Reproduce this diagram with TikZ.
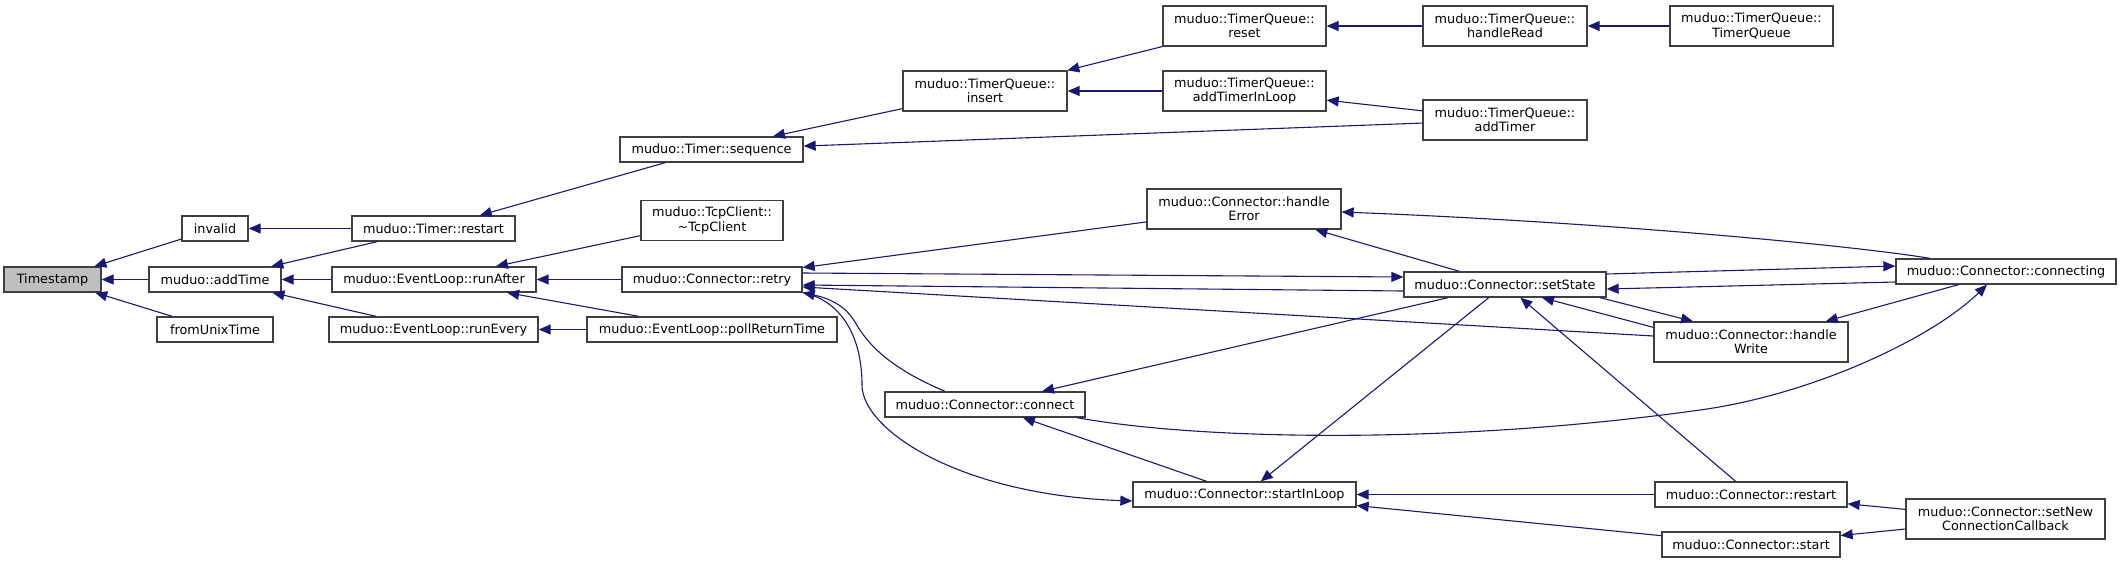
\documentclass[tikz,border=0pt]{standalone}
\usepackage{fontspec}
\setmainfont{DejaVu Sans}
\usetikzlibrary{arrows.meta}
\definecolor{edgeblue}{HTML}{191970}
\definecolor{rootgray}{HTML}{BFBFBF}
\begin{document}
\begin{tikzpicture}[x=1pt,y=-1pt,
  fn/.style={draw=black!75,line width=1.3pt,fill=white,inner sep=0pt,align=center,minimum height=25pt,font=\fontsize{12.8}{14.3}\selectfont},
  fn2/.style={fn,minimum height=40pt},
  callby/.style={{Triangle[length=12pt,width=10pt]}-,draw=edgeblue,line width=1.1pt}]
\useasboundingbox (0,0) rectangle (2121,563);
\node[fn,fill=rootgray,minimum width=97pt] (Timestamp) at (52.5,279.5) {Timestamp};
\node[fn,minimum width=66pt] (invalid) at (215,228.5) {invalid};
\node[fn,minimum width=132pt] (addTime) at (215,279.5) {muduo::addTime};
\node[fn,minimum width=116pt] (fromUnixTime) at (215,329.5) {fromUnixTime};
\node[fn,minimum width=163pt] (timerRestart) at (433.5,228.5) {muduo::Timer::restart};
\node[fn,minimum width=204pt] (runAfter) at (434,279.5) {muduo::EventLoop::runAfter};
\node[fn,minimum width=209pt] (runEvery) at (433.5,329.5) {muduo::EventLoop::runEvery};
\node[fn,minimum width=183pt] (sequence) at (711.5,149.5) {muduo::Timer::sequence};
\node[fn2,minimum width=142pt] (tcpClient) at (712,220.5) {muduo::TcpClient::\\\textasciitilde TcpClient};
\node[fn,minimum width=180pt] (retry) at (712,279.5) {muduo::Connector::retry};
\node[fn,minimum width=250pt] (pollReturnTime) at (712,329.5) {muduo::EventLoop::pollReturnTime};
\node[fn2,minimum width=164pt] (insert) at (985,91) {muduo::TimerQueue::\\insert};
\node[fn2,minimum width=163pt] (reset) at (1244.5,26) {muduo::TimerQueue::\\reset};
\node[fn2,minimum width=163pt] (addTimerInLoop) at (1244.5,91) {muduo::TimerQueue::\\addTimerInLoop};
\node[fn2,minimum width=164pt] (handleRead) at (1505,26) {muduo::TimerQueue::\\handleRead};
\node[fn2,minimum width=164pt] (addTimer) at (1505,120) {muduo::TimerQueue::\\addTimer};
\node[fn2,minimum width=163pt] (timerQueue) at (1751.5,26) {muduo::TimerQueue::\\TimerQueue};
\node[fn2,minimum width=194pt] (handleError) at (1244,209) {muduo::Connector::handle\\Error};
\node[fn,minimum width=202pt] (setState) at (1505,284.5) {muduo::Connector::setState};
\node[fn,minimum width=200pt] (connect) at (985,404.5) {muduo::Connector::connect};
\node[fn,minimum width=223pt] (startInLoop) at (1244.5,494.5) {muduo::Connector::startInLoop};
\node[fn2,minimum width=194pt] (handleWrite) at (1751,342) {muduo::Connector::handle\\Write};
\node[fn,minimum width=192pt] (connRestart) at (1751,494.5) {muduo::Connector::restart};
\node[fn,minimum width=178pt] (start) at (1751,544.5) {muduo::Connector::start};
\node[fn,minimum width=220pt] (connecting) at (2006,271.5) {muduo::Connector::connecting};
\node[fn2,minimum width=199pt] (setNewCb) at (2005.5,519) {muduo::Connector::setNew\\ConnectionCallback};
\draw[callby] (Timestamp) -- (invalid);
\draw[callby] (Timestamp) -- (addTime);
\draw[callby] (Timestamp) -- (fromUnixTime);
\draw[callby] (invalid) -- (timerRestart);
\draw[callby] (addTime) -- (timerRestart);
\draw[callby] (addTime) -- (runAfter);
\draw[callby] (addTime) -- (runEvery);
\draw[callby] (timerRestart) -- (sequence);
\draw[callby] (sequence) -- (insert);
\draw[callby] (sequence) -- (addTimer);
\draw[callby] (insert) -- (reset);
\draw[callby] (insert) -- (addTimerInLoop);
\draw[callby] (reset) -- (handleRead);
\draw[callby] (handleRead) -- (timerQueue);
\draw[callby] (addTimerInLoop) -- (addTimer);
\draw[callby] (runAfter) -- (tcpClient);
\draw[callby] (runAfter) -- (retry);
\draw[callby] (runAfter) -- (pollReturnTime);
\draw[callby] (runEvery) -- (pollReturnTime);
\draw[callby] (retry) -- (handleError);
\draw[callby] ([yshift=7.5pt]setState.west) -- ([yshift=6.5pt]retry.east);
\draw[callby] ([yshift=-5.5pt]retry.east) -- ([yshift=-6.5pt]setState.west);
\draw[callby] ([yshift=-7.5pt]retry.east) -- ([yshift=6pt]handleWrite.west);
\draw[callby] (retry.south east) .. controls (828,298) and (845,305) .. (855,322) .. controls (868,345) and (890,368) .. ([xshift=-40pt]connect.north);
\draw[callby] ([yshift=-6.5pt]startInLoop.west) .. controls (960,495) and (862,430) .. (862,385) .. controls (862,335) and (840,300) .. (retry.south east);
\draw[callby] (handleError) -- (setState);
\draw[callby] ([yshift=-3pt]handleError.east) .. controls (1600,222) and (1850,245) .. ([xshift=-76pt]connecting.north);
\draw[callby] (connect) -- (setState);
\draw[callby] (startInLoop) -- (setState);
\draw[callby] ([xshift=37pt]setState.south) -- ([yshift=-6pt]handleWrite.north west);
\draw[callby] ([xshift=-58pt]handleWrite.north) -- ([xshift=95pt]setState.south);
\draw[callby] ([yshift=5.5pt]connecting.west) -- ([yshift=10.5pt]setState.east);
\draw[callby] ([yshift=-4.5pt]setState.east) -- ([yshift=-10.5pt]connecting.west);
\draw[callby] (handleWrite) -- (connecting);
\draw[callby] ([xshift=-19pt]connecting.south) .. controls (1930,340) and (1810,395) .. (1700,410) .. controls (1450,445) and (1200,440) .. ([xshift=92pt]connect.south);
\draw[callby] (setState) -- (connRestart);
\draw[callby] (connect) -- (startInLoop);
\draw[callby] (startInLoop) -- (connRestart);
\draw[callby] (startInLoop) -- (start);
\draw[callby] (connRestart) -- (setNewCb);
\draw[callby] (start) -- (setNewCb);
\end{tikzpicture}
\end{document}
